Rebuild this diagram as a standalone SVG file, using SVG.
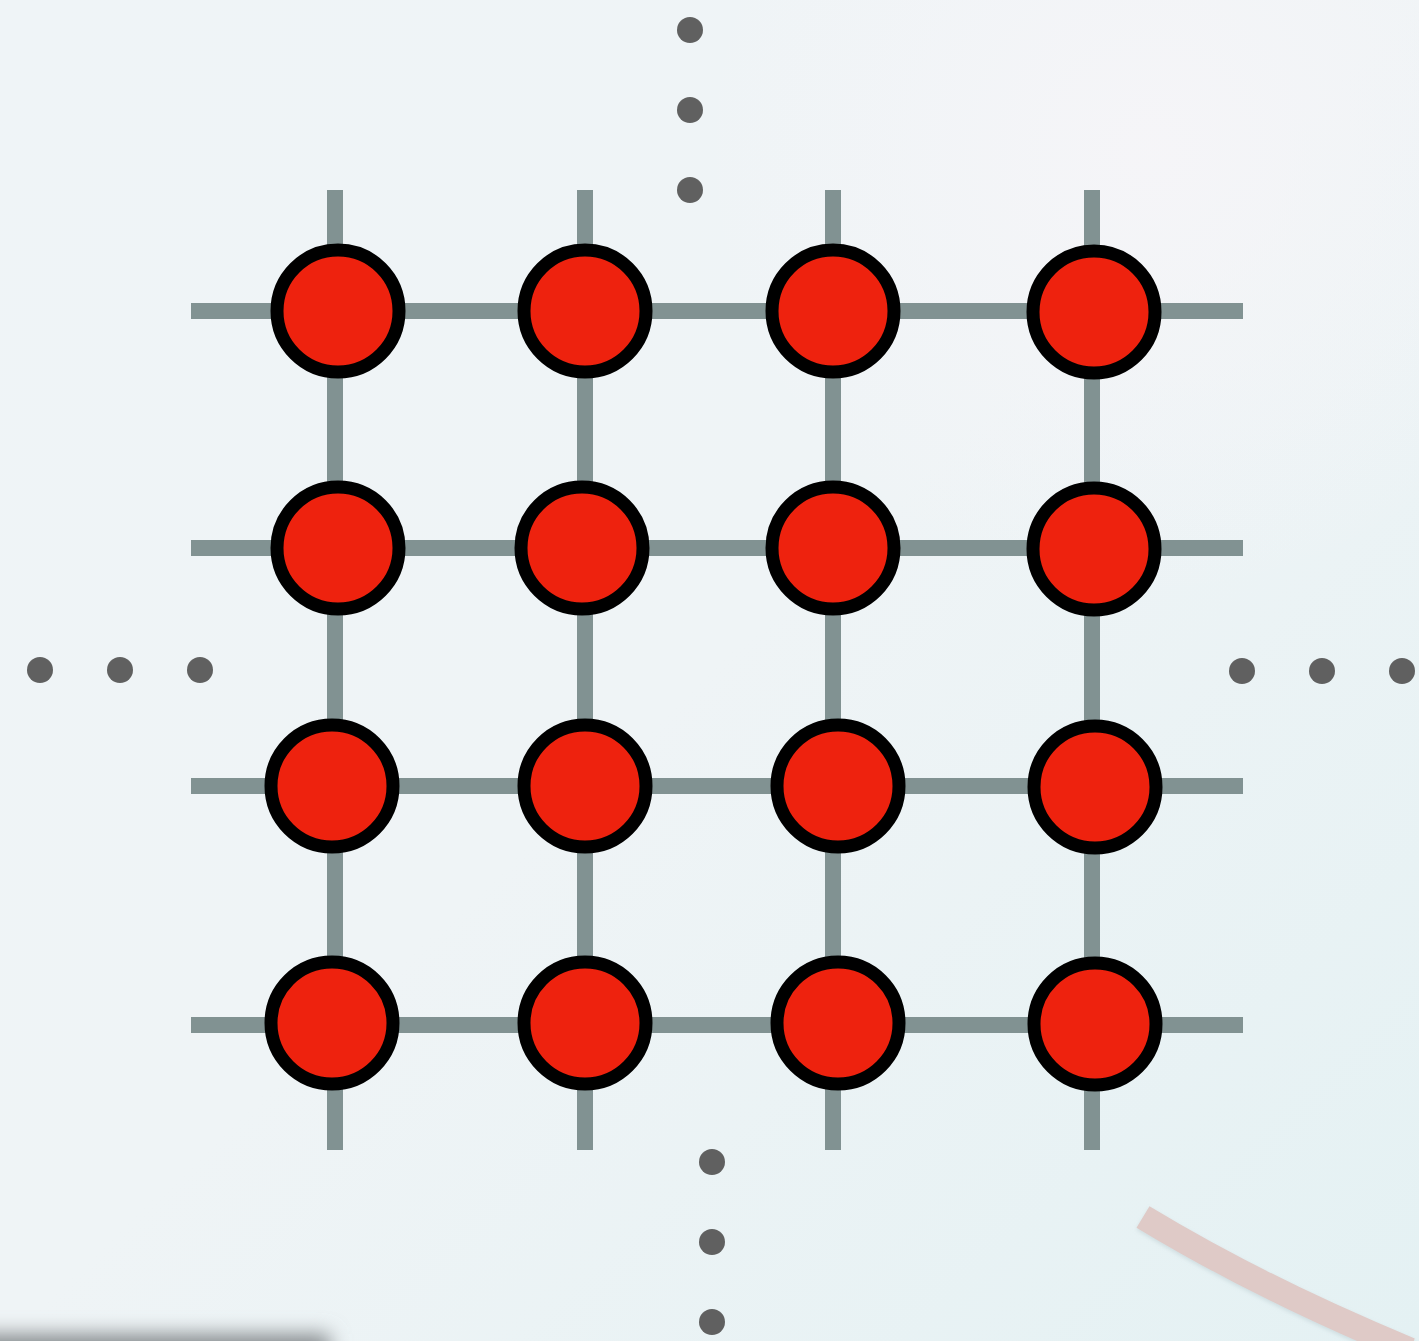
<svg xmlns="http://www.w3.org/2000/svg" width="1419" height="1341" viewBox="0 0 1419 1341">
  <style>
    .grid line { stroke: #819292; stroke-width: 16; }
    .node circle { fill: #ee220e; stroke: #000000; stroke-width: 13; }
    .dots circle { fill: #606060; }
  </style>
  <defs>
    <linearGradient id="bg" x1="0" y1="0" x2="1" y2="1">
      <stop offset="0" stop-color="#eff4f7"/>
      <stop offset="0.5" stop-color="#eff4f6"/>
      <stop offset="1" stop-color="#e4f1f3"/>
    </linearGradient>
    <radialGradient id="glow" cx="1150" cy="150" r="450" gradientUnits="userSpaceOnUse">
      <stop offset="0" stop-color="#f6f5f8" stop-opacity="0.9"/>
      <stop offset="1" stop-color="#f6f5f8" stop-opacity="0"/>
    </radialGradient>
    <filter id="soft" x="-20%" y="-300%" width="140%" height="700%">
      <feGaussianBlur stdDeviation="10"/>
    </filter>
    <filter id="shade" x="-10%" y="-10%" width="120%" height="120%">
      <feDropShadow dx="0" dy="2" stdDeviation="2" flood-color="#9fb4b8" flood-opacity="0.35"/>
    </filter>
  </defs>

  <!-- backdrop -->
  <rect width="1419" height="1341" fill="url(#bg)"/>
  <rect width="1419" height="1341" fill="url(#glow)"/>
  <rect x="-30" y="1334" width="360" height="50" fill="#868b8e" filter="url(#soft)"/>
  <path d="M1143,1217 Q1262,1289 1410,1350" fill="none" stroke="#dfcac7" stroke-width="25" filter="url(#shade)"/>

  <!-- lattice connectors -->
  <g id="connectors" class="grid">
    <line x1="335" y1="190" x2="335" y2="1150"/>
    <line x1="585" y1="190" x2="585" y2="1150"/>
    <line x1="833" y1="190" x2="833" y2="1150"/>
    <line x1="1092" y1="190" x2="1092" y2="1150"/>
    <line x1="191" y1="311" x2="1243" y2="311"/>
    <line x1="191" y1="548" x2="1243" y2="548"/>
    <line x1="191" y1="786" x2="1243" y2="786"/>
    <line x1="191" y1="1025" x2="1243" y2="1025"/>
  </g>

  <!-- continuation dots -->
  <g id="dots" class="dots">
    <circle cx="690" cy="30" r="13"/>
    <circle cx="690" cy="110" r="13"/>
    <circle cx="690" cy="190" r="13"/>
    <circle cx="40" cy="670" r="13"/>
    <circle cx="120" cy="670" r="13"/>
    <circle cx="200" cy="670" r="13"/>
    <circle cx="1242" cy="671" r="13"/>
    <circle cx="1322" cy="671" r="13"/>
    <circle cx="1402" cy="671" r="13"/>
    <circle cx="712" cy="1162" r="13"/>
    <circle cx="712" cy="1242" r="13"/>
    <circle cx="712" cy="1322" r="13"/>
  </g>

  <!-- lattice sites -->
  <g id="n11" class="node"><circle cx="338" cy="311" r="61"/></g>
  <g id="n12" class="node"><circle cx="585" cy="311" r="61"/></g>
  <g id="n13" class="node"><circle cx="833" cy="311" r="61"/></g>
  <g id="n14" class="node"><circle cx="1094" cy="312" r="61"/></g>
  <g id="n21" class="node"><circle cx="338" cy="548" r="61"/></g>
  <g id="n22" class="node"><circle cx="582" cy="548" r="61"/></g>
  <g id="n23" class="node"><circle cx="833" cy="548" r="61"/></g>
  <g id="n24" class="node"><circle cx="1094" cy="549" r="61"/></g>
  <g id="n31" class="node"><circle cx="332" cy="786" r="61"/></g>
  <g id="n32" class="node"><circle cx="585" cy="786" r="61"/></g>
  <g id="n33" class="node"><circle cx="838" cy="786" r="61"/></g>
  <g id="n34" class="node"><circle cx="1095" cy="787" r="61"/></g>
  <g id="n41" class="node"><circle cx="332" cy="1023" r="61"/></g>
  <g id="n42" class="node"><circle cx="585" cy="1023" r="61"/></g>
  <g id="n43" class="node"><circle cx="838" cy="1023" r="61"/></g>
  <g id="n44" class="node"><circle cx="1095" cy="1024" r="61"/></g>
</svg>
